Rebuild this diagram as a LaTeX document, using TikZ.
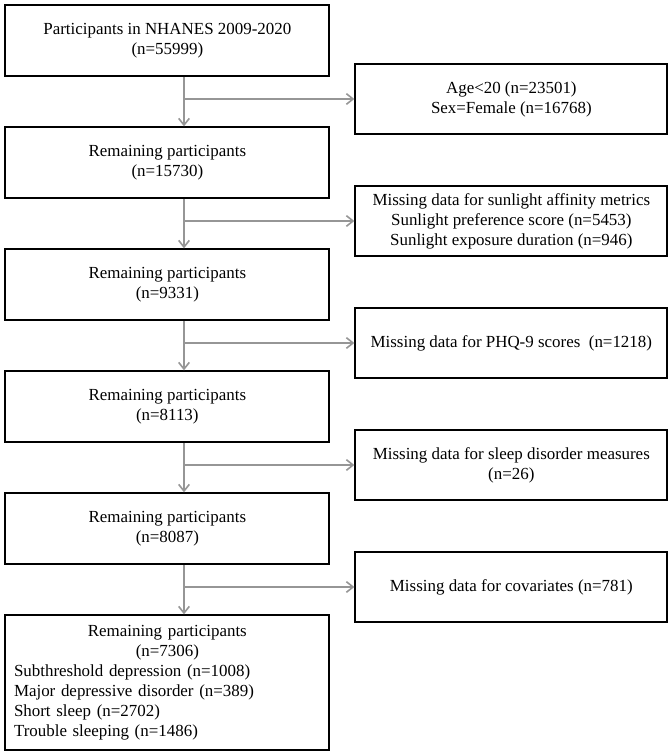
\documentclass[tikz,border=0pt]{standalone}
\usepackage{fontspec}
\setmainfont{Liberation Serif}
\usepackage{tikz}
\usetikzlibrary{arrows.meta, positioning, calc}
\definecolor{flowgray}{RGB}{150,150,150}

\begin{document}
\begin{tikzpicture}[
  stage/.style={rectangle, draw, line width=1.5pt, minimum width=243pt, minimum height=53pt, align=center, font=\fontsize{12.7}{15}\selectfont},
  excl/.style={rectangle, draw, line width=1.5pt, minimum width=234pt, minimum height=52pt, align=center, font=\fontsize{12.7}{15}\selectfont},
  flow/.style={-{Straight Barb[length=5pt, width=8pt]}, line width=1.2pt, flowgray},
  node distance=37pt,
]

\useasboundingbox (0,0) rectangle (503.25pt,-567pt);

% ── MAIN COLUMN: participants left after each step ──
\node[stage, anchor=north west] (start) at (3.25pt,-3.25pt) {Participants in NHANES 2009-2020\\(n=55999)};
\node[stage, below=of start] (rem1) {Remaining participants\\(n=15730)};
\node[stage, below=of rem1] (rem2) {Remaining participants\\(n=9331)};
\node[stage, below=of rem2] (rem3) {Remaining participants\\(n=8113)};
\node[stage, below=of rem3] (rem4) {Remaining participants\\(n=8087)};
\node[stage, below=of rem4, minimum height=101pt, text width=230pt, align=left] (final) {
  {\centering Remaining participants\\(n=7306)\par}
  Subthreshold depression (n=1008)\\Major depressive disorder (n=389)\\Short sleep (n=2702)\\Trouble sleeping (n=1486)
};

% ── BRANCH POINTS (a bit right of the box centres) ──
\coordinate (j1) at ($(start.south)+(12.5pt,-16.5pt)$);
\coordinate (j2) at ($(rem1.south)+(12.5pt,-16.5pt)$);
\coordinate (j3) at ($(rem2.south)+(12.5pt,-16.5pt)$);
\coordinate (j4) at ($(rem3.south)+(12.5pt,-16.5pt)$);
\coordinate (j5) at ($(rem4.south)+(12.5pt,-16.5pt)$);

% ── EXCLUSIONS (right column, level with each branch) ──
\node[excl, anchor=west] (excl1) at ([xshift=18pt]start.east |- j1) {Age<20 (n=23501)\\Sex=Female (n=16768)};
\node[excl, anchor=west] (excl2) at ([xshift=18pt]rem1.east |- j2) {Missing data for sunlight affinity metrics\\Sunlight preference score (n=5453)\\Sunlight exposure duration (n=946)};
\node[excl, anchor=west] (excl3) at ([xshift=18pt]rem2.east |- j3) {Missing data for PHQ-9 scores~~(n=1218)};
\node[excl, anchor=west] (excl4) at ([xshift=18pt]rem3.east |- j4) {Missing data for sleep disorder measures\\(n=26)};
\node[excl, anchor=west] (excl5) at ([xshift=18pt]rem4.east |- j5) {Missing data for covariates (n=781)};

% ── FLOW ARROWS ──
\draw[flow] (start.south -| j1) -- (rem1.north -| j1);
\draw[flow] (rem1.south -| j2) -- (rem2.north -| j2);
\draw[flow] (rem2.south -| j3) -- (rem3.north -| j3);
\draw[flow] (rem3.south -| j4) -- (rem4.north -| j4);
\draw[flow] (rem4.south -| j5) -- (final.north -| j5);

% ── EXCLUSION ARROWS ──
\draw[flow] (j1) -- (excl1.west);
\draw[flow] (j2) -- (excl2.west);
\draw[flow] (j3) -- (excl3.west);
\draw[flow] (j4) -- (excl4.west);
\draw[flow] (j5) -- (excl5.west);

\end{tikzpicture}
\end{document}
